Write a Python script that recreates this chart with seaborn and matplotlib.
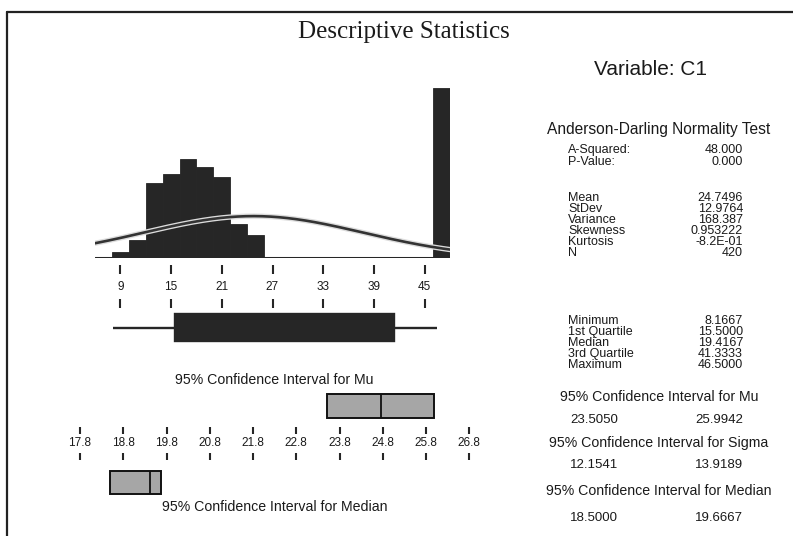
import numpy as np
import pandas as pd
import matplotlib
matplotlib.use("Agg")
import matplotlib.pyplot as plt
import matplotlib.patheffects as pe
from matplotlib.lines import Line2D
import seaborn as sns

# ---- data for variable C1 ----
bin_edges = [6, 8, 10, 12, 14, 16, 18, 20, 22, 24, 26, 28, 30, 32, 34, 36,
             38, 40, 42, 44, 46, 48]
bin_counts = [0, 4, 11, 46, 52, 61, 56, 50, 21, 14, 0, 0, 0, 0, 0, 0,
              0, 0, 0, 0, 105]
hist_ticks = [9, 15, 21, 27, 33, 39, 45]

n_obs = 420
mean = 24.7496
stdev = 12.9764
five_num = [8.1667, 15.5000, 19.4167, 41.3333, 46.5000]   # min, Q1, median, Q3, max
ci_mu = [23.5050, 25.9942]
ci_sigma = [12.1541, 13.9189]
ci_median = [18.5000, 19.6667]
ci_ticks = [17.8, 18.8, 19.8, 20.8, 21.8, 22.8, 23.8, 24.8, 25.8, 26.8]

ad_labels = ["A-Squared:", "P-Value:"]
ad_values = ["48.000", "0.000"]
moment_labels = ["Mean", "StDev", "Variance", "Skewness", "Kurtosis", "N"]
moment_values = ["24.7496", "12.9764", "168.387", "0.953222", "-8.2E-01", "420"]
quant_labels = ["Minimum", "1st Quartile", "Median", "3rd Quartile", "Maximum"]

# ---- figure setup ----
W, H = 793, 536
sns.set_theme(style="white")
plt.rcParams["font.family"] = ["Liberation Sans", "DejaVu Sans"]
fig = plt.figure(figsize=(W / 100, H / 100), dpi=100)
fig.patch.set_facecolor("white")

DARK = "#262626"
INK = "#1a1a1a"


def axes_px(x0, y0, x1, y1):
    ax = fig.add_axes([x0 / W, 1 - y1 / H, (x1 - x0) / W, (y1 - y0) / H])
    ax.set_facecolor("none")
    for s in ax.spines.values():
        s.set_visible(False)
    ax.set_xticks([])
    ax.set_yticks([])
    return ax


def text_px(x, y, s, **kw):
    kw.setdefault("color", INK)
    fig.text(x / W, 1 - y / H, s, **kw)


# frame
fig.add_artist(Line2D([7 / W, 1], [1 - 12 / H, 1 - 12 / H], color="#222", lw=1.6))
fig.add_artist(Line2D([7 / W, 7 / W], [0, 1 - 12 / H], color="#222", lw=1.6))

text_px(404, 32, "Descriptive Statistics", ha="center", va="center",
        family=["Liberation Serif"], fontsize=18)

# ---- histogram with fitted normal curve ----
ax_h = axes_px(95, 70, 450, 258)
bin_mids = [(a + b) / 2 for a, b in zip(bin_edges[:-1], bin_edges[1:])]
sns.histplot(x=bin_mids, weights=bin_counts, bins=bin_edges, ax=ax_h,
             color=DARK, alpha=1, edgecolor=DARK, linewidth=0.6)
ax_h.set_xlim(bin_edges[0], bin_edges[-1])
ax_h.set_ylim(0, 188 * 0.6165)
ax_h.set_xlabel("")
ax_h.set_ylabel("")
ax_h.set_xticks([])
ax_h.set_yticks([])
ax_h.axhline(0, color=DARK, lw=2.2)

bw = bin_edges[1] - bin_edges[0]
xs = np.linspace(bin_edges[0], bin_edges[-1], 300)
ys = n_obs * bw * np.exp(-0.5 * ((xs - mean) / stdev) ** 2) / (stdev * np.sqrt(2 * np.pi))
sns.lineplot(x=xs, y=ys, ax=ax_h, color="#333333", lw=1.9,
             path_effects=[pe.Stroke(linewidth=3.8, foreground="#dcdcdc"), pe.Normal()])

# tick strip under the histogram
ax_t = axes_px(95, 265, 450, 308)
ax_t.set_xlim(bin_edges[0], bin_edges[-1])
ax_t.set_ylim(0, 1)
ax_t.vlines(hist_ticks, 0.78, 1.0, color=DARK, lw=1.5)
ax_t.vlines(hist_ticks, 0.0, 0.22, color=DARK, lw=1.5)
for v in hist_ticks:
    ax_t.text(v, 0.5, f"{v}", ha="center", va="center", fontsize=8.5, color=INK)

# box plot of the data
ax_b = axes_px(95, 305, 450, 350)
sns.boxplot(x=five_num, whis=np.inf, ax=ax_b, width=0.62, color=DARK,
            linecolor=DARK, linewidth=1.7, showcaps=False,
            medianprops=dict(color=DARK))
ax_b.set_xlim(bin_edges[0], bin_edges[-1])
ax_b.set_ylim(0.5, -0.5)
for s in ax_b.spines.values():
    s.set_visible(False)
ax_b.set_xticks([])
ax_b.set_yticks([])
ax_b.set_xlabel("")

# ---- confidence interval panel ----
px_per_unit = 43.25
x_left = ci_ticks[0] - (80 - 40) / px_per_unit
x_right = ci_ticks[0] + (500 - 80) / px_per_unit
ax_ci = axes_px(40, 385, 500, 500)
ax_ci.set_xlim(x_left, x_right)
ax_ci.set_ylim(500, 385)

BOX_GRAY = "#a6a6a6"
ax_ci.barh(406, ci_mu[1] - ci_mu[0], left=ci_mu[0], height=24,
           color=BOX_GRAY, edgecolor="#111", lw=1.4)
ax_ci.vlines(mean, 394, 418, color="#111", lw=1.3)
ax_ci.barh(482.5, ci_median[1] - ci_median[0], left=ci_median[0], height=23,
           color=BOX_GRAY, edgecolor="#111", lw=1.4)
ax_ci.vlines(five_num[2], 471, 494, color="#111", lw=1.3)

ax_ci.vlines(ci_ticks, 427, 434, color=DARK, lw=1.5)
ax_ci.vlines(ci_ticks, 453, 460, color=DARK, lw=1.5)
for v in ci_ticks:
    ax_ci.text(v, 443, f"{v:.1f}", ha="center", va="center", fontsize=8.5, color=INK)

text_px(274, 380, "95% Confidence Interval for Mu", ha="center", va="center",
        fontsize=10.2)
text_px(275, 507, "95% Confidence Interval for Median", ha="center", va="center",
        fontsize=10.2)

# ---- statistics table ----
LX, RX = 568, 743
FS = 9
text_px(650, 69, "Variable: C1", ha="center", va="center", fontsize=15)
text_px(659, 129, "Anderson-Darling Normality Test", ha="center", va="center",
        fontsize=11.2)


def rows(labels, values, y0, step):
    for i, (lab, val) in enumerate(zip(labels, values)):
        y = y0 + i * step
        text_px(LX, y, lab, ha="left", va="center", fontsize=FS)
        text_px(RX, y, val, ha="right", va="center", fontsize=FS)


rows(ad_labels, ad_values, 150, 12)
rows(moment_labels, moment_values, 198, 11)
rows(quant_labels, [f"{v:.4f}" for v in five_num], 321, 11)

ci_blocks = [("95% Confidence Interval for Mu", ci_mu, 397, 420),
             ("95% Confidence Interval for Sigma", ci_sigma, 443, 465),
             ("95% Confidence Interval for Median", ci_median, 491, 518)]
for title, (lo, hi), ty, vy in ci_blocks:
    text_px(659, ty, title, ha="center", va="center", fontsize=10.2)
    text_px(570, vy, f"{lo:.4f}", ha="left", va="center", fontsize=FS + 0.5)
    text_px(RX, vy, f"{hi:.4f}", ha="right", va="center", fontsize=FS + 0.5)

fig.savefig("out.png", dpi=100, facecolor="white")
